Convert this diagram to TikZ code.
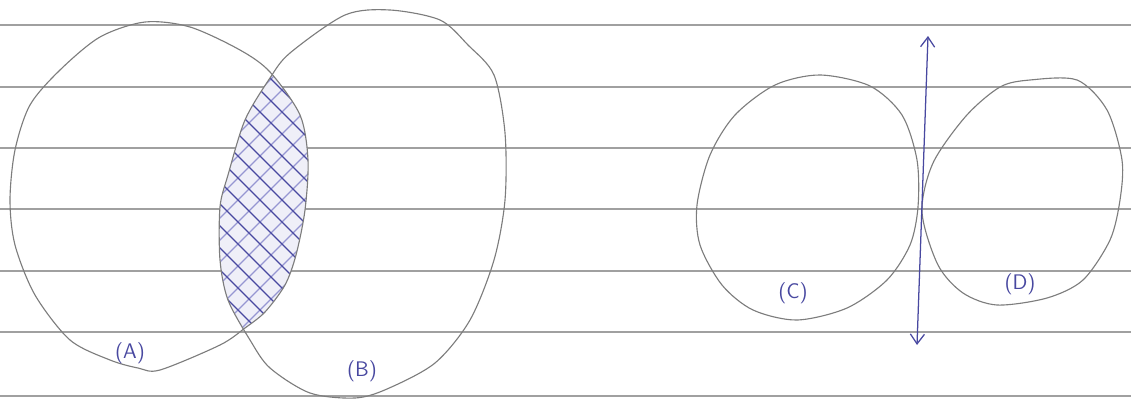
\documentclass[tikz,border=0pt]{standalone}
\usepackage{tikz}
\usetikzlibrary{arrows.meta}
\definecolor{rule}{RGB}{160,160,160}
\definecolor{pencil}{RGB}{125,125,125}
\definecolor{ink}{RGB}{72,72,160}
\definecolor{inklight}{RGB}{150,150,210}

% hand drawn outlines, in pixel units
\newcommand\setA{plot[smooth cycle] coordinates {(145,22) (190,27) (240,50) (270,72) (300,115) (308,160) (305,210) (296,255) (285,285) (265,312) (245,328) (220,345) (160,370) (138,368) (110,360) (70,340) (35,295) (15,245) (10,200) (15,150) (30,105) (60,70) (100,37)}}
\newcommand\setB{plot[smooth cycle] coordinates {(345,15) (390,10) (440,20) (468,45) (494,75) (505,133) (505,200) (494,260) (470,320) (435,363) (387,389) (355,398) (310,393) (270,368) (250,340) (228,300) (220,260) (220,207) (228,175) (245,120) (270,78) (290,53)}}

\begin{document}
\begin{tikzpicture}[x=0.025cm,y=-0.025cm,
  lbl/.style={text=ink, font=\fontsize{15}{15}\sffamily, inner sep=1pt}]
  \useasboundingbox (0,0) rectangle (1131,403);
  % paper lines
  \foreach \y in {25,87,148,209,271,332,396}
    \draw[rule, line width=1.1pt] (0,\y) -- (1131,\y);
  % hatched overlap of A and B
  \begin{scope}
    \clip \setA;
    \clip \setB;
    \fill[inklight!15] (200,50) rectangle (330,340);
    \foreach \k in {-160,-138,...,300}
      \draw[inklight, line width=0.8pt] (\k+400,0) -- ++(-400,400);
    \foreach \k in {-160,-138,...,300}
      \draw[ink, line width=0.8pt] (\k,0) -- ++(400,400);
  \end{scope}
  % sets A and B
  \draw[pencil, line width=0.8pt] \setA;
  \draw[pencil, line width=0.8pt] \setB;
  \node[lbl] (labA) at (130,353) {(A)};
  \node[lbl] (labB) at (362,371) {(B)};
  % sets C and D
  \draw[pencil, line width=0.8pt] plot[smooth cycle] coordinates {(820,75) (870,86) (902,115) (917,160) (918,207) (910,245) (887,280) (847,308) (797,320) (753,310) (722,285) (700,245) (697,205) (710,155) (735,115) (775,85)};
  \draw[pencil, line width=0.8pt] plot[smooth cycle] coordinates {(922,212) (933,163) (966,116) (1000,87) (1030,80) (1077,80) (1107,110) (1122,160) (1120,200) (1110,240) (1083,280) (1047,298) (997,305) (963,293) (938,265)};
  \node[lbl] (labC) at (793,293) {(C)};
  \node[lbl] (labD) at (1020,284) {(D)};
  % tangent line
  \coordinate (tTop) at (928,36);
  \coordinate (tBot) at (917,345);
  \draw[ink, line width=0.9pt, {Straight Barb[length=7pt,width=10pt]}-{Straight Barb[length=7pt,width=10pt]}] (tBot) -- (tTop);
\end{tikzpicture}
\end{document}
